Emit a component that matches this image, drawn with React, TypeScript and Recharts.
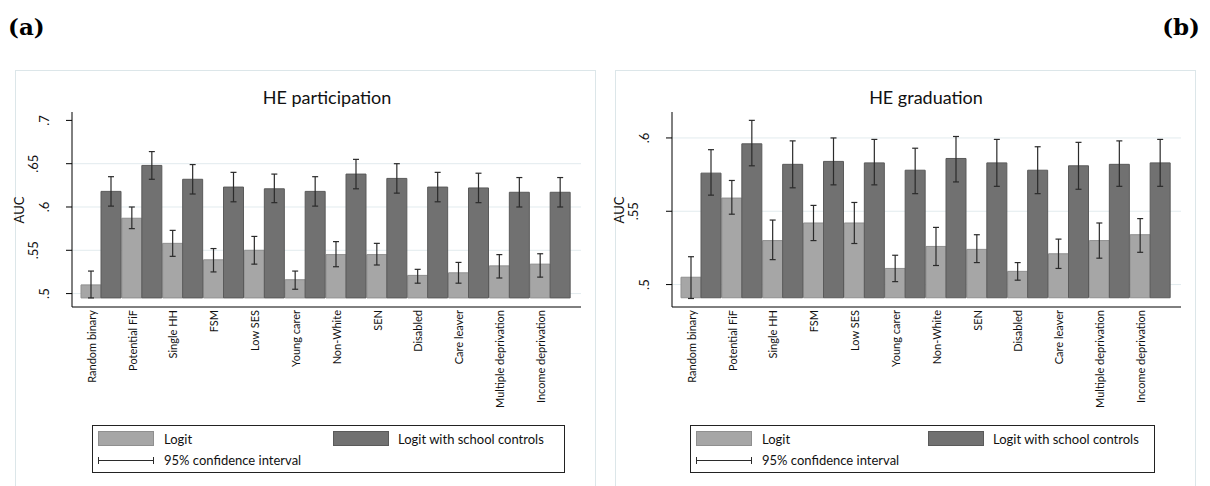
import React from 'react';
import { BarChart, Bar, XAxis, YAxis, CartesianGrid, ErrorBar } from 'recharts';

const categories = [
  'Random binary', 'Potential FiF', 'Single HH', 'FSM', 'Low SES', 'Young carer',
  'Non-White', 'SEN', 'Disabled', 'Care leaver', 'Multiple deprivation', 'Income deprivation',
];

// HE participation
const partLogit = [0.510, 0.587, 0.558, 0.539, 0.550, 0.516, 0.545, 0.545, 0.521, 0.524, 0.532, 0.534];
const partLogitLo = [0.495, 0.575, 0.543, 0.525, 0.534, 0.505, 0.531, 0.533, 0.512, 0.512, 0.518, 0.519];
const partLogitHi = [0.526, 0.600, 0.573, 0.552, 0.566, 0.526, 0.560, 0.558, 0.528, 0.536, 0.545, 0.546];
const partSchool = [0.618, 0.648, 0.632, 0.623, 0.621, 0.618, 0.638, 0.633, 0.623, 0.622, 0.617, 0.617];
const partSchoolLo = [0.601, 0.632, 0.615, 0.606, 0.605, 0.601, 0.621, 0.616, 0.606, 0.605, 0.600, 0.600];
const partSchoolHi = [0.635, 0.664, 0.649, 0.640, 0.638, 0.635, 0.655, 0.650, 0.640, 0.639, 0.634, 0.634];

// HE graduation
const gradLogit = [0.505, 0.559, 0.530, 0.542, 0.542, 0.511, 0.526, 0.524, 0.509, 0.521, 0.530, 0.534];
const gradLogitLo = [0.4905, 0.548, 0.517, 0.530, 0.528, 0.502, 0.513, 0.515, 0.503, 0.511, 0.518, 0.522];
const gradLogitHi = [0.519, 0.571, 0.544, 0.554, 0.556, 0.520, 0.539, 0.534, 0.515, 0.531, 0.542, 0.545];
const gradSchool = [0.576, 0.596, 0.582, 0.584, 0.583, 0.578, 0.586, 0.583, 0.578, 0.581, 0.582, 0.583];
const gradSchoolLo = [0.561, 0.581, 0.566, 0.568, 0.568, 0.562, 0.570, 0.567, 0.562, 0.565, 0.567, 0.567];
const gradSchoolHi = [0.592, 0.612, 0.598, 0.600, 0.599, 0.593, 0.601, 0.599, 0.594, 0.597, 0.598, 0.599];

const partTicks = [0.5, 0.55, 0.6, 0.65, 0.7];
const partGrid = [0.5, 0.55, 0.6, 0.65];
const gradTicks = [0.5, 0.55, 0.6];
const gradGrid = [0.5, 0.55, 0.6];

const FONT = 'Lato, "Open Sans", "DejaVu Sans", sans-serif';
const LIGHT = '#a6a6a6';
const LIGHT_EDGE = '#8f8f8f';
const DARK = '#717171';
const DARK_EDGE = '#5a5a5a';
const ERR = '#2b2b2b';

function buildRows(
  logit: number[], logitLo: number[], logitHi: number[],
  school: number[], schoolLo: number[], schoolHi: number[], base: number,
) {
  return categories.map((name, i) => ({
    name,
    logit: [base, logit[i]],
    logitErr: [logit[i] - logitLo[i], logitHi[i] - logit[i]],
    school: [base, school[i]],
    schoolErr: [school[i] - schoolLo[i], schoolHi[i] - school[i]],
  }));
}

const fmt = (v: number) => v.toFixed(2).replace(/0+$/, '').replace(/^0/, '');

const YTick = (props: any) => {
  const { x, y, payload } = props;
  const label = fmt(Number(payload.value));
  const cx = x - (label.length > 2 ? 33 : 22);
  return (
    <text x={cx} y={y} transform={`rotate(-90 ${cx} ${y})`} textAnchor="middle"
      dominantBaseline="central" fontSize={13} fill="#111" fontFamily={FONT}>
      {label}
    </text>
  );
};

const XTick = (props: any) => {
  const { x, y, payload } = props;
  const half = typeof payload.offset === 'number' && payload.offset > 0 ? payload.offset : 20.4;
  const lx = x - half / 2;
  return (
    <text x={lx} y={y} transform={`rotate(-90 ${lx} ${y})`} textAnchor="end"
      dominantBaseline="central" fontSize={11} fill="#111" fontFamily={FONT}>
      {payload.value}
    </text>
  );
};

type PanelProps = {
  left: number;
  title: string;
  rows: any[];
  domain: [number, number];
  ticks: number[];
  grid: number[];
  titleX: number;
  legendX: number;
  legendW: number;
  darkOff: number;
};

function Panel({ left, title, rows, domain, ticks, grid, titleX, legendX, legendW, darkOff }: PanelProps) {
  const lx = legendX;
  return (
    <div style={{ position: 'absolute', left, top: 0, width: 600, height: 486, overflow: 'hidden' }}>
      <div style={{
        position: 'absolute', left: 15, top: 70, width: 581, height: 450,
        border: '1px solid #dce6e9', boxSizing: 'border-box',
      }} />
      <div style={{ position: 'absolute', left: 0, top: 0 }}>
        <BarChart width={600} height={486} data={rows}
          margin={{ top: 112, right: 19, bottom: 79, left: 12 }}
          barCategoryGap={0} barGap={0}>
          <CartesianGrid vertical={false} horizontalValues={grid} stroke="#e2ebee" strokeWidth={1} />
          <XAxis dataKey="name" type="category" interval={0} height={100}
            padding={{ left: 9, right: 10 }} tickLine={false} tickSize={0} tickMargin={3}
            axisLine={{ stroke: '#000', strokeWidth: 1 }} tick={<XTick />} />
          <YAxis type="number" width={60} domain={domain} ticks={ticks} allowDataOverflow
            tickSize={6} tickMargin={0} tickLine={{ stroke: '#000' }}
            axisLine={{ stroke: '#000', strokeWidth: 1 }} tick={<YTick />} />
          <Bar dataKey="logit" fill={LIGHT} stroke={LIGHT_EDGE} strokeWidth={1} isAnimationActive={false}>
            <ErrorBar dataKey="logitErr" width={3} stroke={ERR} strokeWidth={1.2} direction="y" />
          </Bar>
          <Bar dataKey="school" fill={DARK} stroke={DARK_EDGE} strokeWidth={1} isAnimationActive={false}>
            <ErrorBar dataKey="schoolErr" width={3} stroke={ERR} strokeWidth={1.2} direction="y" />
          </Bar>
        </BarChart>
      </div>
      <svg width={600} height={486} style={{ position: 'absolute', left: 0, top: 0, pointerEvents: 'none' }}>
        <text x={titleX} y={97} textAnchor="middle" dominantBaseline="central" fontSize={18}
          fill="#111" fontFamily={FONT}>{title}</text>
        <text x={19} y={210} transform="rotate(-90 19 210)" textAnchor="middle" dominantBaseline="central"
          fontSize={13} fill="#111" fontFamily={FONT}>AUC</text>
        <rect x={lx + 0.5} y={425.5} width={legendW - 1} height={47} fill="#fff" stroke="#222" strokeWidth={1} />
        <rect x={lx + 6.5} y={431.5} width={55} height={14} fill={LIGHT} stroke={LIGHT_EDGE} />
        <text x={lx + 72} y={439} dominantBaseline="central" fontSize={13} fill="#111" fontFamily={FONT}>Logit</text>
        <rect x={lx + darkOff + 0.5} y={431.5} width={55} height={14} fill={DARK} stroke={DARK_EDGE} />
        <text x={lx + darkOff + 65} y={439} dominantBaseline="central" fontSize={13} fill="#111" fontFamily={FONT}>Logit with school controls</text>
        <line x1={lx + 6} y1={460.5} x2={lx + 62} y2={460.5} stroke={ERR} strokeWidth={1} />
        <line x1={lx + 6.5} y1={457} x2={lx + 6.5} y2={464} stroke={ERR} strokeWidth={1} />
        <line x1={lx + 61.5} y1={457} x2={lx + 61.5} y2={464} stroke={ERR} strokeWidth={1} />
        <text x={lx + 72} y={460} dominantBaseline="central" fontSize={13} fill="#111" fontFamily={FONT}>95% confidence interval</text>
      </svg>
    </div>
  );
}

export default function App() {
  const partRows = buildRows(partLogit, partLogitLo, partLogitHi, partSchool, partSchoolLo, partSchoolHi, 0.495);
  const gradRows = buildRows(gradLogit, gradLogitLo, gradLogitHi, gradSchool, gradSchoolLo, gradSchoolHi, 0.491);
  return (
    <div style={{ position: 'absolute', left: 0, top: 0, width: 1210, height: 486, background: '#fff', overflow: 'hidden' }}>
      <Panel left={0} title="HE participation" rows={partRows} domain={[0.4845, 0.7097]}
        ticks={partTicks} grid={partGrid} titleX={327} legendX={92} legendW={473} darkOff={241} />
      <Panel left={600} title="HE graduation" rows={gradRows} domain={[0.4847, 0.6177]}
        ticks={gradTicks} grid={gradGrid} titleX={326} legendX={90} legendW={465} darkOff={238} />
      <svg width={1210} height={60} style={{ position: 'absolute', left: 0, top: 0, pointerEvents: 'none' }}>
        <text x={8} y={35} fontSize={23} fontWeight="bold" fill="#000" fontFamily='"DejaVu Serif", serif'>(a)</text>
        <text x={1200} y={35} textAnchor="end" fontSize={23} fontWeight="bold" fill="#000" fontFamily='"DejaVu Serif", serif'>(b)</text>
      </svg>
    </div>
  );
}
